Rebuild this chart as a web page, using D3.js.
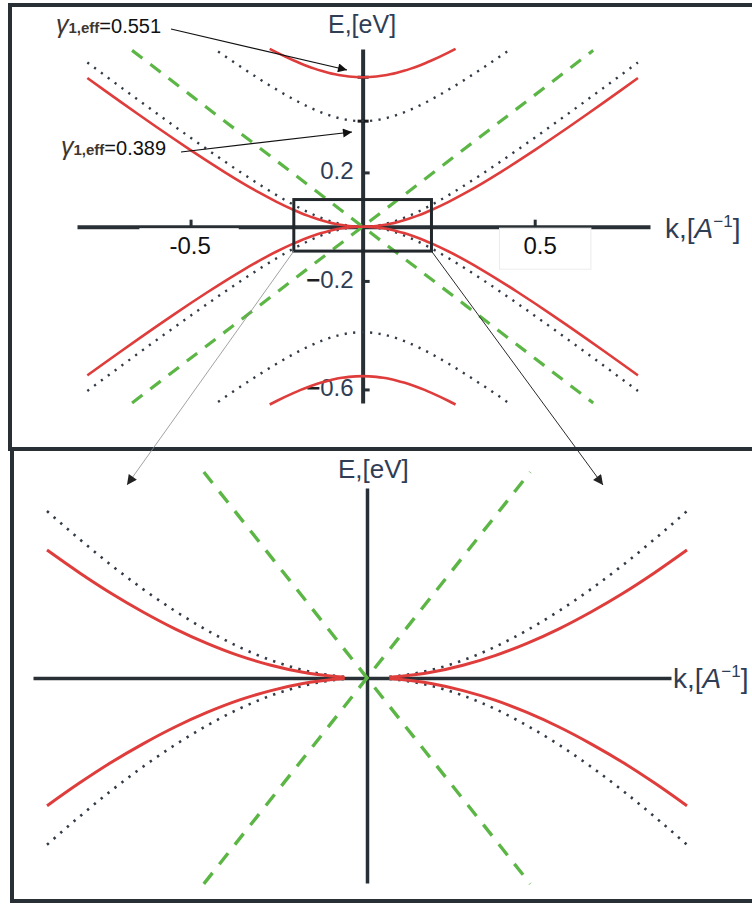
<!DOCTYPE html>
<html>
<head>
<meta charset="utf-8">
<script src="https://cdn.jsdelivr.net/npm/d3@7"></script>
<style>
  html, body { margin: 0; padding: 0; background: #ffffff; }
  svg { display: block; }
  text { font-family: "Liberation Sans", Arial, sans-serif; }
</style>
</head>
<body>
<svg id="chart" width="752" height="904"></svg>
<script>
// ---- Band structure samples (k in 1/Å, E in eV), conduction side, k >= 0 ----
// Low-energy band, gamma1,eff = 0.551 (solid red)
const kLowRed = [0, 0.014, 0.02, 0.04, 0.06, 0.08, 0.10, 0.12, 0.14, 0.16, 0.18, 0.20, 0.25, 0.30, 0.35, 0.40, 0.45, 0.50, 0.55, 0.60, 0.65, 0.70, 0.75, 0.80];
const eLowRed = [0, 0.0003, 0.0007, 0.0027, 0.0061, 0.0107, 0.0166, 0.0236, 0.0317, 0.0407, 0.0507, 0.0615, 0.0915, 0.1252, 0.1617, 0.2004, 0.2407, 0.2823, 0.3249, 0.3684, 0.4126, 0.4573, 0.5024, 0.5480];
// Low-energy band, gamma1,eff = 0.389 (dotted)
const kLowDot = [0, 0.014, 0.02, 0.04, 0.06, 0.08, 0.10, 0.12, 0.14, 0.16, 0.18, 0.20, 0.25, 0.30, 0.35, 0.40, 0.45, 0.50, 0.55, 0.60, 0.65, 0.70, 0.75, 0.80];
const eLowDot = [0, 0.0005, 0.0010, 0.0038, 0.0085, 0.0149, 0.0229, 0.0322, 0.0427, 0.0543, 0.0669, 0.0802, 0.1164, 0.1555, 0.1968, 0.2395, 0.2834, 0.3281, 0.3734, 0.4191, 0.4653, 0.5118, 0.5586, 0.6055];
// Split-off band, gamma1,eff = 0.551 (solid red)
const kHighRed = [0, 0.02, 0.04, 0.06, 0.08, 0.10, 0.12, 0.14, 0.16, 0.18, 0.20, 0.25, 0.27];
const eHighRed = [0.551, 0.5517, 0.5537, 0.5571, 0.5617, 0.5676, 0.5746, 0.5827, 0.5917, 0.6017, 0.6125, 0.6425, 0.6556];
// Split-off band, gamma1,eff = 0.389 (dotted)
const kHighDot = [0, 0.02, 0.04, 0.06, 0.08, 0.10, 0.12, 0.14, 0.16, 0.18, 0.20, 0.25, 0.30, 0.35, 0.40, 0.42];
const eHighDot = [0.389, 0.3900, 0.3928, 0.3975, 0.4039, 0.4119, 0.4212, 0.4317, 0.4433, 0.4559, 0.4692, 0.5054, 0.5445, 0.5858, 0.6285, 0.6459];
// Linear (Dirac) dispersion (green dashed)
const kDirac = [0, 0.102, 0.30, 0.50, 0.67];
const eDirac = [0, 0.099, 0.291, 0.485, 0.650];

// Marked band edges
const gammaEff = [0.551, 0.389];

// Axis ticks
const kTicks = [-0.5, 0.5];
const eTicks = [0.2, -0.2, -0.6];

// Window magnified in the lower panel, and the k range plotted there
const zoomK = [-0.2, 0.2];
const zoomE = [-0.09, 0.1];
const zoomKMin = 0.014;

// ---- styling ----
const INK = "#283035";
const RED = "#df3d3b";
const GREEN = "#5cb646";
const DOT = "#333b47";
const LABEL_BLUE = "#2f3d55";

const svg = d3.select("#chart");

const defs = svg.append("defs");
function arrowMarker(id, color, w, h) {
  defs.append("marker")
    .attr("id", id)
    .attr("viewBox", "0 0 10 10")
    .attr("refX", 10).attr("refY", 5)
    .attr("markerUnits", "userSpaceOnUse")
    .attr("markerWidth", w).attr("markerHeight", h)
    .attr("orient", "auto")
    .append("path").attr("d", "M0,0L10,5L0,10Z").attr("fill", color);
}
arrowMarker("headA", "#111", 13, 9);
arrowMarker("headB", "#222", 14, 10);

// Band polylines: mirrored in k (even bands) and in E (valence side)
function evenBand(ks, es, sign) {
  const pts = [];
  for (let i = ks.length - 1; i > 0; i--) pts.push([-ks[i], sign * es[i]]);
  for (let i = 0; i < ks.length; i++) pts.push([ks[i], sign * es[i]]);
  return pts;
}
function oddBand(ks, es, sign) {
  const pts = [];
  for (let i = ks.length - 1; i > 0; i--) pts.push([-ks[i], -sign * es[i]]);
  for (let i = 0; i < ks.length; i++) pts.push([ks[i], sign * es[i]]);
  return pts;
}

const series = [];
[1, -1].forEach(s => {
  series.push({ pts: oddBand(kDirac, eDirac, s), kind: "dirac" });
  series.push({ pts: evenBand(kLowDot, eLowDot, s), kind: "dot" });
  series.push({ pts: evenBand(kHighDot, eHighDot, s), kind: "dot" });
  series.push({ pts: evenBand(kLowRed, eLowRed, s), kind: "red" });
  series.push({ pts: evenBand(kHighRed, eHighRed, s), kind: "red" });
});

function drawSeries(g, x, y, filter, widths, splitAtZero) {
  const line = d3.line().x(d => x(d[0])).y(d => y(d[1])).curve(d3.curveMonotoneX);
  series.forEach(sr => {
    const all = sr.pts.filter(d => filter(d, sr.kind));
    // in the magnified view the parabolic bands stop short of k = 0 on each side
    const parts = (splitAtZero && sr.kind !== "dirac")
      ? [all.filter(d => d[0] < 0), all.filter(d => d[0] > 0)]
      : [all];
    parts.forEach(pts => {
      if (pts.length < 2) return;
      const p = g.append("path").attr("d", line(pts)).attr("fill", "none");
      if (sr.kind === "red") {
        p.attr("stroke", RED).attr("stroke-width", widths.red);
      } else if (sr.kind === "dot") {
        p.attr("stroke", DOT).attr("stroke-width", widths.dot)
          .attr("stroke-dasharray", widths.dotDash);
      } else {
        p.attr("stroke", GREEN).attr("stroke-width", widths.green)
          .attr("stroke-dasharray", widths.greenDash);
      }
    });
  });
}

function styleAxis(g, w) {
  g.select(".domain").attr("stroke", INK).attr("stroke-width", w);
  g.selectAll(".tick line").attr("stroke", INK).attr("stroke-width", 3);
}

// ---- panel frames ----
svg.append("rect").attr("x", 10).attr("y", 5).attr("width", 790).attr("height", 444)
  .attr("fill", "none").attr("stroke", INK).attr("stroke-width", 4);
svg.append("rect").attr("x", 12).attr("y", 449).attr("width", 790).attr("height", 452)
  .attr("fill", "none").attr("stroke", INK).attr("stroke-width", 4);

// ================= upper panel =================
const xTop = d3.scaleLinear().domain([-0.83, 0.835]).range([77, 650]);
const yTop = d3.scaleLinear().domain([-0.65, 0.655]).range([403, 49]);
const upper = svg.append("g");

const kAxisTop = upper.append("g")
  .attr("transform", `translate(0,${yTop(0)})`)
  .call(d3.axisBottom(xTop).tickValues(kTicks).tickSizeInner(-7).tickSizeOuter(0)
    .tickPadding(10).tickFormat(d => (d < 0 ? "-" : "") + Math.abs(d)));
styleAxis(kAxisTop, 4);
kAxisTop.selectAll(".tick text")
  .attr("font-size", 24).attr("fill", "#111")
  .attr("dx", d => d > 0 ? 5 : -1)
  .attr("font-family", "'Liberation Sans', Arial, sans-serif");
// white label plates under the k tick labels
kAxisTop.selectAll(".tick").each(function (d) {
  const t = d3.select(this).select("text");
  const bb = t.node().getBBox();
  const shift = d > 0 ? 5 : -1;
  d3.select(this).insert("rect", "text")
    .attr("x", bb.x + shift - 29).attr("y", 1.5)
    .attr("width", bb.width + 58).attr("height", 41)
    .attr("fill", "#fff")
    .attr("stroke", d > 0 ? "#ececec" : "none").attr("stroke-width", 1);
});

const eAxisTop = upper.append("g")
  .attr("transform", `translate(${xTop(0)},0)`)
  .call(d3.axisLeft(yTop).tickValues(eTicks).tickSizeInner(-7).tickSizeOuter(0)
    .tickPadding(9).tickFormat(d => Math.abs(d)));
styleAxis(eAxisTop, 4);
eAxisTop.selectAll(".tick text")
  .attr("font-size", 24).attr("fill", LABEL_BLUE).attr("dy", "0.26em")
  .attr("font-family", "'Liberation Sans', Arial, sans-serif")
  .each(function (d) {
    if (d < 0) {
      const t = d3.select(this);
      const v = t.text();
      t.text(null);
      t.append("tspan").attr("fill", "#1e1e1e").attr("font-weight", "bold").text("−");
      t.append("tspan").text(v);
    }
  });

// band-edge marks on the E axis
upper.selectAll("line.gmark").data(gammaEff).join("line")
  .attr("class", "gmark")
  .attr("x1", xTop(0) - 5).attr("x2", xTop(0) + 6)
  .attr("y1", d => yTop(d)).attr("y2", d => yTop(d))
  .attr("stroke", "#1a1a1a").attr("stroke-width", 3);

drawSeries(upper, xTop, yTop, () => true,
  { red: 2.6, dot: 2.4, dotDash: "2.2,6.3", green: 3.2, greenDash: "13,10" }, false);

// magnified window
upper.append("rect")
  .attr("x", xTop(zoomK[0])).attr("y", yTop(zoomE[1]))
  .attr("width", xTop(zoomK[1]) - xTop(zoomK[0]))
  .attr("height", yTop(zoomE[0]) - yTop(zoomE[1]))
  .attr("fill", "none").attr("stroke", "#22272b").attr("stroke-width", 3);

// axis titles
upper.append("text").attr("x", 328).attr("y", 33).attr("font-size", 25).attr("fill", LABEL_BLUE)
  .text("E,[eV]");
const kLab = upper.append("text").attr("x", 665).attr("y", 238).attr("font-size", 28).attr("fill", LABEL_BLUE);
kLab.append("tspan").text("k,[");
kLab.append("tspan").attr("font-style", "italic").text("A");
kLab.append("tspan").attr("font-size", 17).attr("dy", -11).text("−1");
kLab.append("tspan").attr("dy", 11).text("]");

// gamma annotations
const annot = [
  { g: gammaEff[0], x: 56, y: 33, from: [171, 29], to: [347, 70] },
  { g: gammaEff[1], x: 61, y: 155, from: [181, 152], to: [352, 132] }
];
annot.forEach(a => {
  const t = upper.append("text").attr("x", a.x).attr("y", a.y);
  t.append("tspan").attr("font-size", 25).attr("font-style", "italic").attr("fill", "#40362e").text("γ");
  t.append("tspan").attr("font-size", 15).attr("font-weight", "bold").attr("fill", "#40362e").text("1,eff");
  t.append("tspan").attr("font-size", 20).attr("fill", "#111").text("=" + a.g);
  upper.append("line")
    .attr("x1", a.from[0]).attr("y1", a.from[1]).attr("x2", a.to[0]).attr("y2", a.to[1])
    .attr("stroke", "#111").attr("stroke-width", 1.2).attr("marker-end", "url(#headA)");
});

// ================= lower panel (magnified) =================
const xBot = d3.scaleLinear().domain([-0.20875, 0.19]).range([33, 671]);
const yBot = d3.scaleLinear().domain([-0.0986, 0.0913]).range([883, 488]);
const lower = svg.append("g");

const kAxisBot = lower.append("g")
  .attr("transform", `translate(0,${yBot(0)})`)
  .call(d3.axisBottom(xBot).tickValues([]).tickSizeOuter(0));
styleAxis(kAxisBot, 3.5);
const eAxisBot = lower.append("g")
  .attr("transform", `translate(${xBot(0)},0)`)
  .call(d3.axisLeft(yBot).tickValues([]).tickSizeOuter(0));
styleAxis(eAxisBot, 3.5);

drawSeries(lower, xBot, yBot,
  (d, kind) => Math.abs(d[0]) <= zoomK[1] + 1e-9 && Math.abs(d[1]) <= 0.1 &&
    (kind === "dirac" || Math.abs(d[0]) >= zoomKMin - 1e-9),
  { red: 3, dot: 2.6, dotDash: "2.4,6.4", green: 3.4, greenDash: "14,11" }, true);

lower.append("text").attr("x", 338).attr("y", 478).attr("font-size", 26).attr("fill", LABEL_BLUE)
  .text("E,[eV]");
const kLab2 = lower.append("text").attr("x", 673).attr("y", 688).attr("font-size", 28).attr("fill", LABEL_BLUE);
kLab2.append("tspan").text("k,[");
kLab2.append("tspan").attr("font-style", "italic").text("A");
kLab2.append("tspan").attr("font-size", 17).attr("dy", -11).text("−1");
kLab2.append("tspan").attr("dy", 11).text("]");

// connectors from the window corners to the magnified panel
svg.append("line")
  .attr("x1", xTop(zoomK[0])).attr("y1", yTop(zoomE[0])).attr("x2", 127).attr("y2", 485)
  .attr("stroke", "#8a8a8a").attr("stroke-width", 0.8).attr("marker-end", "url(#headB)");
svg.append("line")
  .attr("x1", xTop(zoomK[1])).attr("y1", yTop(zoomE[0])).attr("x2", 603).attr("y2", 485)
  .attr("stroke", "#2a2a2a").attr("stroke-width", 1).attr("marker-end", "url(#headB)");
</script>
</body>
</html>
